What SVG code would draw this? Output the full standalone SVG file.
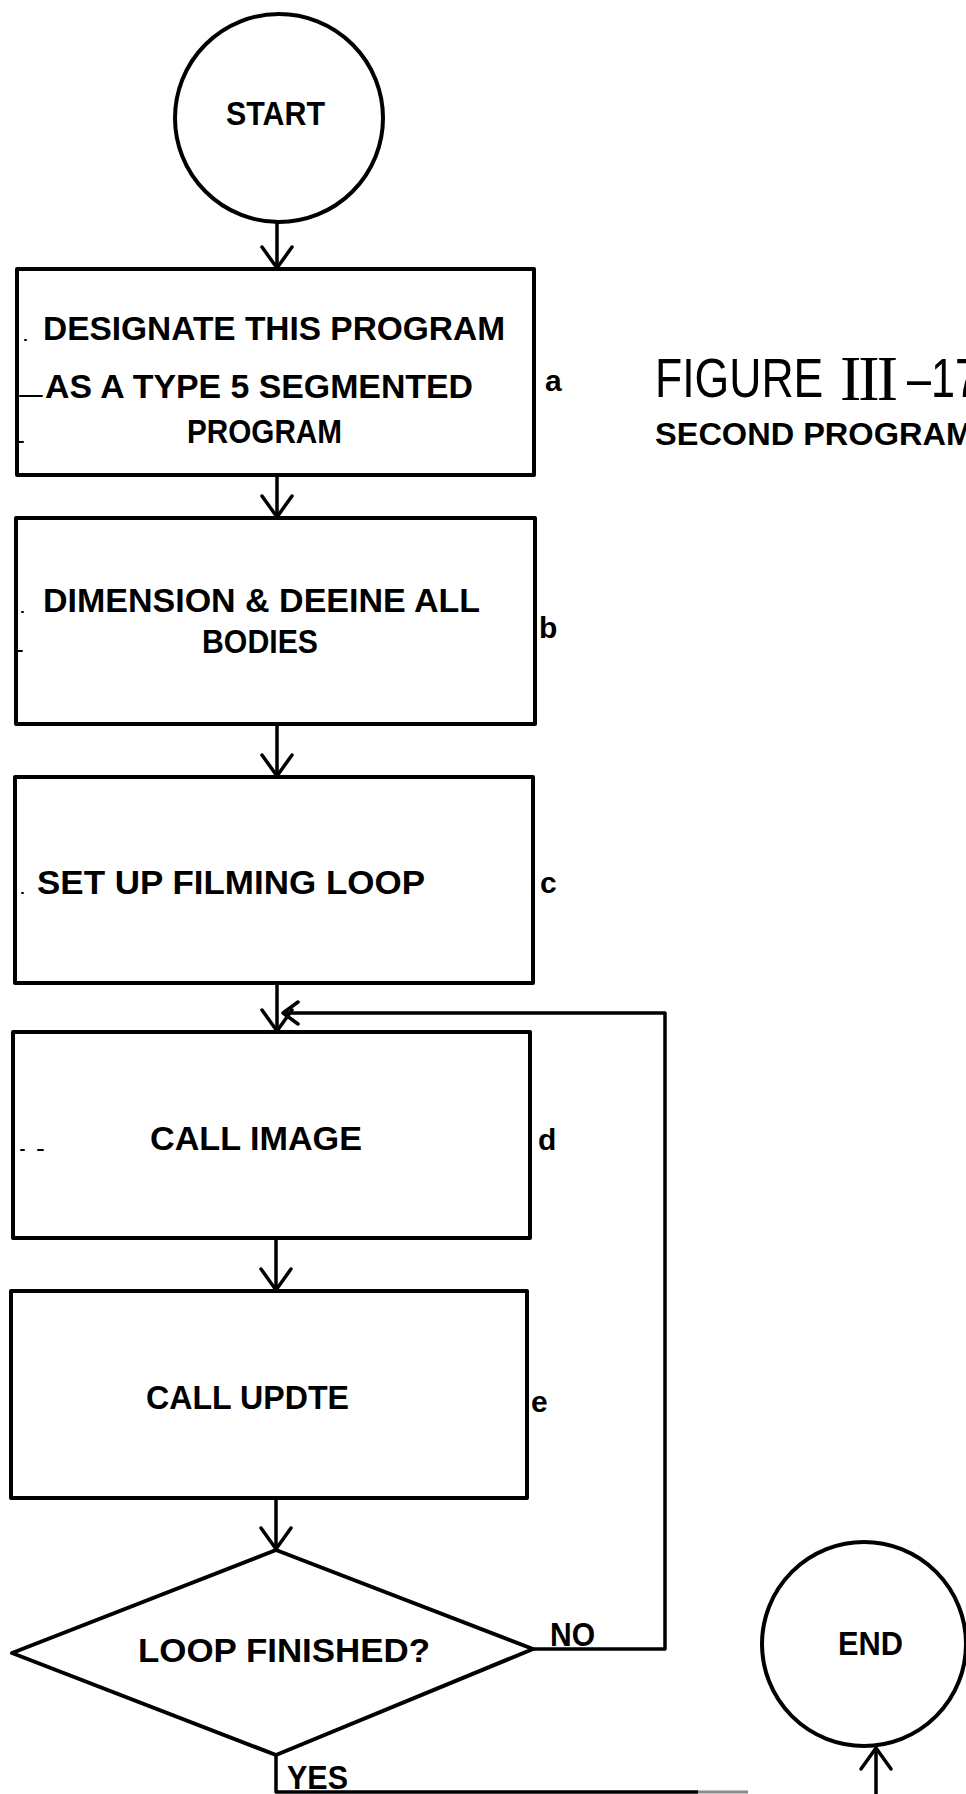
<svg xmlns="http://www.w3.org/2000/svg" width="966" height="1794" viewBox="0 0 966 1794">
  <style>
    .shape { fill: #fff; stroke: #000; stroke-width: 4; stroke-linejoin: round; }
    .conn { fill: none; stroke: #000; stroke-width: 3.5; stroke-linejoin: round; }
    .fade { fill: none; stroke: #8a8a8a; stroke-width: 3; }
    .speck { fill: none; stroke: #000; stroke-width: 2; stroke-linecap: round; }
    .t { font-family: "Liberation Sans", Arial, sans-serif; font-weight: bold; font-size: 34px; fill: #000; }
    .lbl { font-family: "Liberation Sans", Arial, sans-serif; font-weight: bold; font-size: 30px; fill: #000; }
    .fig { font-family: "Liberation Sans", Arial, sans-serif; font-weight: normal; font-size: 55px; fill: #000; }
    .numeral { font-family: "Liberation Serif", "Times New Roman", serif; font-weight: normal; font-size: 64px; fill: #000; }
    .sub { font-family: "Liberation Sans", Arial, sans-serif; font-weight: bold; font-size: 32px; fill: #000; }
  </style>
  <defs>
    <marker id="vhead" markerUnits="userSpaceOnUse" viewBox="-30 -20 40 40" markerWidth="40" markerHeight="40" refX="0" refY="0" orient="auto" overflow="visible">
      <path d="M-21,-15 L0,0 L-21,15" fill="none" stroke="#000" stroke-width="3.5" stroke-linejoin="round" stroke-linecap="round"/>
    </marker>
    <marker id="vheadSmall" markerUnits="userSpaceOnUse" viewBox="-30 -20 40 40" markerWidth="40" markerHeight="40" refX="0" refY="0" orient="auto" overflow="visible">
      <path d="M-15,-11 L0,0 L-15,11" fill="none" stroke="#000" stroke-width="3.5" stroke-linejoin="round" stroke-linecap="round"/>
    </marker>
  </defs>

  <rect x="0" y="0" width="966" height="1794" fill="#fff"/>

  <!-- flow connectors -->
  <g id="connectors">
    <path class="conn" d="M277,222 V268" marker-end="url(#vhead)"/>
    <path class="conn" d="M277,475 V517" marker-end="url(#vhead)"/>
    <path class="conn" d="M277,724 V776" marker-end="url(#vhead)"/>
    <path class="conn" d="M277,983 V1031" marker-end="url(#vhead)"/>
    <path class="conn" d="M276,1238 V1290" marker-end="url(#vhead)"/>
    <path class="conn" d="M276,1498 V1549" marker-end="url(#vhead)"/>
    <!-- NO branch loops back above CALL IMAGE -->
    <path class="conn" d="M533,1649 H665 V1013 H283" marker-end="url(#vheadSmall)"/>
    <!-- YES branch runs along the bottom edge -->
    <path class="conn" d="M276,1755 V1792 H698"/>
    <path class="fade" d="M698,1792 H748"/>
    <path class="conn" d="M876,1794 V1748" marker-end="url(#vhead)"/>
  </g>

  <g id="start">
    <circle class="shape" cx="279" cy="118" r="104"/>
    <text class="t" x="226" y="125" textLength="99" lengthAdjust="spacingAndGlyphs">START</text>
  </g>

  <g id="step-a">
    <rect class="shape" x="17" y="269" width="517" height="206"/>
    <text class="t" x="43" y="340" textLength="462" lengthAdjust="spacingAndGlyphs">DESIGNATE THIS PROGRAM</text>
    <text class="t" x="45" y="398" textLength="428" lengthAdjust="spacingAndGlyphs">AS A TYPE 5 SEGMENTED</text>
    <text class="t" x="187" y="443" textLength="155" lengthAdjust="spacingAndGlyphs">PROGRAM</text>
    <path class="speck" d="M25,340 h1 M20,396 h22 M18,442 h5"/>
    <text class="lbl" x="545" y="391">a</text>
  </g>

  <g id="step-b">
    <rect class="shape" x="16" y="518" width="519" height="206"/>
    <text class="t" x="43" y="612" textLength="437" lengthAdjust="spacingAndGlyphs">DIMENSION &amp; DEEINE ALL</text>
    <text class="t" x="202" y="653" textLength="116" lengthAdjust="spacingAndGlyphs">BODIES</text>
    <path class="speck" d="M22,612 h1 M17,651 h5"/>
    <text class="lbl" x="539" y="638">b</text>
  </g>

  <g id="step-c">
    <rect class="shape" x="15" y="777" width="518" height="206"/>
    <text class="t" x="37" y="894" textLength="388" lengthAdjust="spacingAndGlyphs">SET UP FILMING LOOP</text>
    <path class="speck" d="M22,893 h1"/>
    <text class="lbl" x="540" y="893">c</text>
  </g>

  <g id="step-d">
    <rect class="shape" x="13" y="1032" width="517" height="206"/>
    <text class="t" x="150" y="1150" textLength="212" lengthAdjust="spacingAndGlyphs">CALL IMAGE</text>
    <path class="speck" d="M21,1150 h3 M38,1150 h5"/>
    <text class="lbl" x="538" y="1150">d</text>
  </g>

  <g id="step-e">
    <rect class="shape" x="11" y="1291" width="516" height="207"/>
    <text class="t" x="146" y="1409" textLength="203" lengthAdjust="spacingAndGlyphs">CALL UPDTE</text>
    <text class="lbl" x="531" y="1412">e</text>
  </g>

  <g id="decision">
    <polygon class="shape" points="276,1550 533,1649 276,1755 12,1653"/>
    <text class="t" x="138" y="1662" textLength="292" lengthAdjust="spacingAndGlyphs">LOOP FINISHED?</text>
    <text class="t" x="550" y="1646" textLength="45" lengthAdjust="spacingAndGlyphs">NO</text>
    <text class="t" x="287" y="1789" textLength="61" lengthAdjust="spacingAndGlyphs">YES</text>
  </g>

  <g id="end">
    <circle class="shape" cx="864" cy="1644" r="102"/>
    <text class="t" x="838" y="1655" textLength="65" lengthAdjust="spacingAndGlyphs">END</text>
  </g>

  <g id="caption">
    <!-- narrow caption lettering: horizontally condensed -->
    <text class="fig" transform="translate(655,397) scale(0.81,1)" x="0" y="0">FIGURE</text>
    <text class="numeral" x="840" y="400" textLength="58" lengthAdjust="spacing">III</text>
    <text class="fig" x="907" y="397" textLength="72" lengthAdjust="spacingAndGlyphs">–17</text>
    <text class="sub" x="655" y="445" textLength="318" lengthAdjust="spacingAndGlyphs">SECOND PROGRAM</text>
  </g>
</svg>
